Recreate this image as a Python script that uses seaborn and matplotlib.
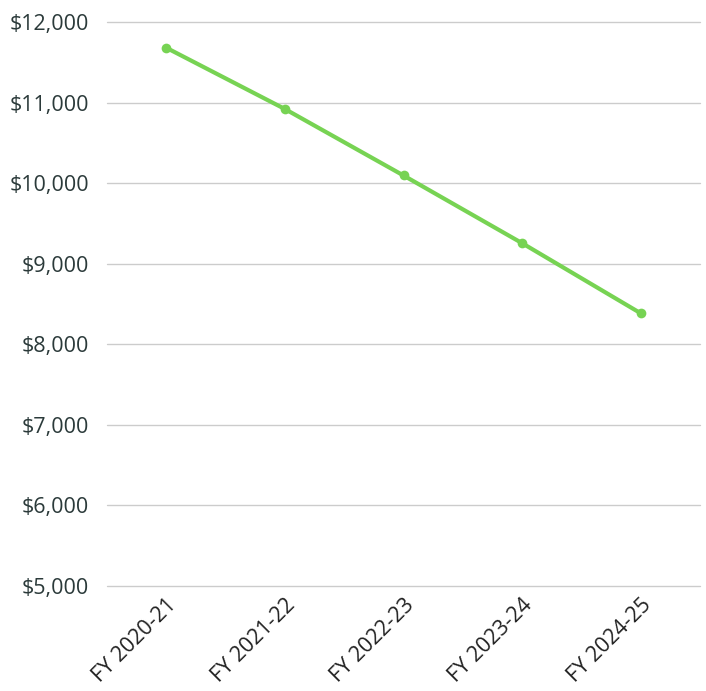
import matplotlib
matplotlib.use("Agg")
import matplotlib.pyplot as plt
import seaborn as sns
import pandas as pd
from matplotlib.ticker import FuncFormatter, MultipleLocator

years = ["FY 2020-21", "FY 2021-22", "FY 2022-23", "FY 2023-24", "FY 2024-25"]
values = [11680, 10920, 10095, 9255, 8385]

sns.set_theme(style="white")
plt.rcParams['font.family'] = ['Open Sans', 'DejaVu Sans']

df = pd.DataFrame({"year": years, "value": values})

fig = plt.figure(figsize=(7.06, 6.91), dpi=100)
ax = fig.add_axes([107/706, 1-586/691, (700-107)/706, (586-22)/691])

sns.lineplot(data=df, x="year", y="value", ax=ax, color="#77d353", linewidth=3,
             marker="o", markersize=7, markeredgewidth=0, sort=False)

ax.set_xlim(-0.5, 4.5)
ax.set_ylim(5000, 12000)
ax.yaxis.set_major_locator(MultipleLocator(1000))
ax.yaxis.set_major_formatter(FuncFormatter(lambda v, p: f"${v:,.0f}"))
ax.grid(axis="y", color="#cccccc", linewidth=1)
for gl in ax.get_ygridlines():
    gl.set_clip_on(False)
ax.set_axisbelow(True)
for s in ax.spines.values():
    s.set_visible(False)
ax.set_xlabel("")
ax.set_ylabel("")
ax.tick_params(axis="y", length=0, pad=13, labelsize=15.5, labelcolor="#2b3a3a")
ax.tick_params(axis="x", length=0, pad=6, labelsize=15.5, labelcolor="#222222")
for lbl in ax.get_xticklabels():
    lbl.set_rotation(45)
    lbl.set_ha("right")
    lbl.set_rotation_mode("anchor")

fig.savefig("out.png", dpi=100)
